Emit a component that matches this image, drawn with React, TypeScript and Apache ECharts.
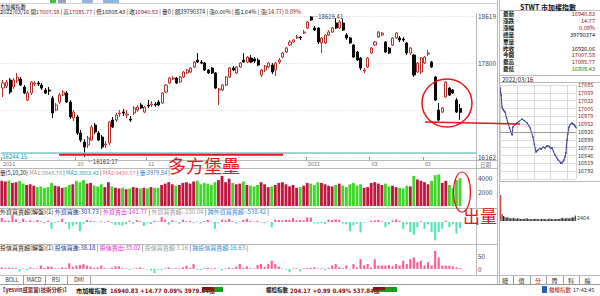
import React, { useEffect, useRef } from "react";
import * as echarts from "echarts";

const FONT = '"Noto Sans CJK TC","Noto Sans",sans-serif';
const NARROW = '"Liberation Sans Narrow","DejaVu Sans Condensed","Noto Sans CJK TC",sans-serif';

// daily candles [open, close, low, high]
const candles: number[][] = [
  [17364, 17451, 17207, 17504], [17399, 17469, 17364, 17504], [17504, 17294, 17260, 17538], [17382, 17504, 17347, 17538],
  [17486, 17556, 17451, 17626], [17521, 17416, 17399, 17556], [17382, 17277, 17260, 17416], [17155, 17277, 17138, 17312],
  [17277, 17469, 17242, 17486], [17434, 17451, 17399, 17486], [17451, 17434, 17399, 17486], [17416, 17364, 17329, 17451],
  [17329, 17277, 17260, 17364], [17329, 17312, 17242, 17382], [17190, 16928, 16841, 17225], [16981, 17068, 16963, 17103],
  [17120, 17242, 17085, 17277], [17242, 17294, 17225, 17329], [17277, 17120, 17103, 17312], [17120, 16859, 16824, 17155],
  [16841, 16946, 16789, 16981], [16859, 16580, 16545, 16894], [16580, 16458, 16423, 16632], [16423, 16336, 16162.17, 16475],
  [16371, 16493, 16318, 16528], [16458, 16684, 16440, 16719], [16719, 16597, 16562, 16754], [16580, 16458, 16440, 16615],
  [16510, 16336, 16301, 16545], [16371, 16388, 16318, 16440], [16406, 16772, 16371, 16789], [16806, 16684, 16667, 16859],
  [16806, 16894, 16772, 16928], [16911, 16928, 16859, 16981], [16946, 16928, 16876, 16998], [16894, 16911, 16841, 16981],
  [16824, 16806, 16772, 16876], [16928, 17016, 16894, 17050], [16981, 17033, 16946, 17068], [17068, 17016, 16998, 17103],
  [16946, 17033, 16928, 17050], [17068, 17050, 17016, 17155], [17068, 17085, 17033, 17138], [17085, 17068, 17033, 17120],
  [17120, 17068, 17050, 17155], [17103, 17277, 17085, 17294], [17294, 17416, 17277, 17434], [17451, 17538, 17434, 17556],
  [17521, 17538, 17504, 17573], [17538, 17451, 17434, 17556], [17469, 17556, 17451, 17573], [17556, 17643, 17538, 17660],
  [17626, 17678, 17608, 17695], [17643, 17713, 17626, 17730], [17730, 17817, 17713, 17835], [17852, 17817, 17800, 17974],
  [17817, 17800, 17782, 17852], [17800, 17678, 17660, 17817], [17678, 17626, 17608, 17695], [17713, 17626, 17608, 17730],
  [17626, 17364, 17347, 17643], [17329, 17347, 17068, 17364], [17329, 17416, 17312, 17434], [17416, 17556, 17399, 17573],
  [17556, 17713, 17538, 17730], [17713, 17678, 17660, 17748], [17626, 17730, 17608, 17748], [17730, 17800, 17713, 17817],
  [17852, 17817, 17800, 17974], [17817, 17904, 17800, 17922], [17887, 17817, 17800, 17939], [17870, 17835, 17800, 17904],
  [17852, 17765, 17748, 17887], [17591, 17678, 17556, 17695], [17678, 17748, 17643, 17765], [17730, 17800, 17713, 17817],
  [17765, 17643, 17608, 17800], [17678, 17800, 17573, 17817], [17817, 17852, 17782, 17887], [17904, 17974, 17887, 17992],
  [17992, 18061, 17974, 18079], [18114, 18166, 18096, 18201], [18166, 18201, 18149, 18218], [18236, 18253, 18218, 18288],
  [18253, 18236, 18201, 18271], [18323, 18340, 18305, 18375], [18410, 18515, 18393, 18532], [18602, 18549, 18532, 18619.41],
  [18410, 18375, 18358, 18445], [18410, 18166, 18131, 18427], [18149, 18236, 17974, 18253], [18149, 18288, 18131, 18305],
  [18288, 18340, 18271, 18375], [18340, 18410, 18323, 18427], [18497, 18410, 18393, 18584], [18410, 18515, 18393, 18549],
  [18497, 18375, 18358, 18567], [18288, 18236, 18201, 18323], [18236, 18149, 18131, 18253], [18114, 17904, 17887, 18131],
  [17992, 17852, 17835, 18009], [17887, 17713, 17678, 17904], [17660, 17678, 17626, 17713], [17730, 17887, 17713, 17904],
  [17974, 18061, 17957, 18079], [18114, 18166, 18096, 18183], [18253, 18340, 18236, 18358], [18288, 18323, 18271, 18340],
  [18166, 17992, 17974, 18183], [18061, 17974, 17957, 18079], [18114, 18236, 18096, 18253], [18236, 18323, 18218, 18340],
  [18236, 18201, 18166, 18271], [18218, 18201, 18166, 18253], [18149, 17974, 17939, 18166], [17974, 18061, 17939, 18079],
  [17939, 17591, 17556, 17957], [17643, 17800, 17626, 17817], [17643, 17887, 17608, 17904], [17800, 17904, 17782, 17922],
  [17957, 17974, 17922, 18026], [17817, 17730, 17713, 17835], [17556, 17155, 17138, 17573], [16981, 16806, 16789, 17103],
  [16946, 17016, 16928, 17033], [17207, 17469, 17190, 17486], [17364, 17242, 17225, 17382], [17329, 17277, 17260, 17347],
  [17155, 16946, 16928, 17190], [17007.58, 16940.83, 16808.43, 17085.77],
];

// daily turnover (億)
const volumes: number[] = [
  3600, 3500, 3650, 3300, 3400, 3550, 3200, 3000, 3100, 2900, 2700, 2800, 2600, 2700, 3300, 2900, 2800, 2600, 2700, 3000,
  3100, 3600, 3400, 3700, 3200, 3300, 2900, 2800, 3100, 2700, 3400, 2800, 2600, 2500, 2600, 2400, 2500, 2700, 2600, 2500,
  2600, 2500, 2700, 2600, 2600, 3000, 3200, 3400, 3100, 2900, 3000, 3300, 3400, 3200, 3500, 3600, 3100, 3300, 3200, 3000,
  3400, 3700, 4300, 3400, 3900, 3300, 3100, 3200, 3500, 3000, 2900, 2800, 3000, 3400, 3100, 2700, 2800, 3000, 3300, 3400,
  3100, 2800, 3000, 2600, 2700, 2900, 3300, 3200, 3000, 3400, 3300, 3100, 2900, 2800, 3000, 3200, 2900, 2700, 3100, 3300,
  2900, 3100, 2600, 2700, 3300, 3400, 3200, 3000, 3200, 2800, 2900, 2700, 2600, 2500, 2900, 2800, 4300, 3800, 3600, 3400,
  3100, 3600, 4400, 4500, 3300, 3600, 3000, 2500, 3700, 3979.84,
];

// foreign investors net buy/sell (億)
const foreignNet: number[] = [
  100, 40, 30, 170, 60, -30, 80, 20, 40, 10, 50, 20, -30, 30, -170, -20, 20, 80, -40, -180,
  -100, -60, -230, -40, 50, 30, 20, -10, 20, -20, 30, -20, -80, -70, -90, -60, 30, -40, 50, 20,
  -100, -20, -50, 30, 10, 120, 60, -70, 40, 10, -40, 60, 20, 30, -30, 10, -40, 20, 50, 10,
  -170, -30, 60, 40, 80, 20, -40, 10, 50, 80, 20, 10, 30, -20, -30, 10, -130, 60, 50, 40,
  60, 50, 100, 40, 50, 40, 120, 110, -30, -40, -30, -50, 60, 50, 70, 50, -40, -60, -230, -80,
  -40, -260, -20, -10, 30, 40, 50, 20, -130, -60, 40, 60, 30, -170, -60, -250, -320, -130, 20, -170,
  -60, -250, -460, -250, -170, 30, -130, -60, -290, -150.04,
];

// investment trust net buy/sell (億)
const trustNet: number[] = [
  6, 3, 5, 4, 3, -10, 2, -5, 5, 3, 2, 13, 4, 9, 9, 3, 2, 6, 4, 22,
  8, 13, 15, 19, 13, 9, 4, 6, 13, 3, 2, 5, 10, 10, 3, 2, -4, 2, 3, 6,
  2, -3, -6, -19, -4, -5, 3, 6, 2, 3, 2, 6, 13, 4, 19, -4, -5, 3, 4, 2,
  3, 1, -6, 2, 5, 3, 9, 19, 4, 10, 3, 2, 15, 19, 8, 19, 32, 19, 9, 2,
  -3, -13, 2, 3, -10, 2, 3, 4, 6, 2, 3, -5, 4, 13, 19, 6, 3, 13, -3, 19,
  6, 38, 13, 19, 6, 38, 13, 13, 13, 15, 10, 19, 13, 32, 19, 38, 45, 26, 32, 13,
  26, 13, 70, 45, 13, 13, 13, 10, 6, 3.16,
];

const dateLabels: Record<number, string> = { 0: "2021", 21: "10", 41: "11", 86: "2022", 104: "02", 119: "03" };
const mainAxis = { min: 16162.17, max: 18619.41, interval: 819.08 };
const supportLevel = 16244.15;
const lastClose = 16940.83;

// intraday minute index from 09:00 and price
const intradayPrice: number[][] = [
  [0, 17075], [2, 17062], [4, 17052], [7, 17011], [11, 17003], [14, 16998], [18, 16994], [23, 16975], [28, 16957],
  [34, 16940], [39, 16925], [43, 16916], [46, 16943], [52, 16950], [60, 16957], [68, 16962], [78, 16970], [86, 16965],
  [96, 16957], [102, 16948], [107, 16940], [112, 16925], [117, 16909], [122, 16885], [128, 16858], [131, 16862],
  [135, 16865], [141, 16870], [147, 16868], [153, 16875], [160, 16872], [165, 16878], [170, 16879], [176, 16876],
  [180, 16870], [185, 16872], [190, 16860], [195, 16848], [201, 16840], [206, 16831], [212, 16826], [216, 16820],
  [220, 16821], [224, 16826], [227, 16831], [231, 16842], [234, 16855], [236, 16875], [238, 16899], [241, 16920],
  [245, 16943], [250, 16952], [256, 16957], [260, 16953], [263, 16950], [267, 16946], [270, 16941],
];
const intradayVol: number[] = [
  2600, 700, 500, 420, 350, 380, 300, 280, 260, 320, 240, 220, 270, 250, 210, 190, 230, 200, 280, 250, 210, 190,
  180, 200, 210, 220, 190, 180, 170, 190, 200, 210, 180, 170, 190, 240, 200, 180, 170, 190, 210, 200, 230, 270,
  320, 260, 240, 300, 280, 250, 320, 340, 380, 560,
];
const prevClose = 16926.06;
const intradayAxis = { min: 16766.35, max: 17085.77, interval: 26.6183 };

const quoteRows: [string, string, string][] = [
  ["最新", "16940.83", "#9b1010"], ["漲跌", "14.77", "#9b1010"], ["漲幅", "0.09%", "#9b1010"],
  ["總量", "39790374", "#111"], ["單量", "", "#111"], ["昨收", "16926.06", "#111"],
  ["今開", "17007.58", "#9b1010"], ["最高", "17085.77", "#9b1010"], ["最低", "16808.43", "#0a8a0a"],
];

const UP = "#c0163f";
const DOWN = "#3fd62a";

export default function App() {
  const ref = useRef<HTMLDivElement>(null);
  useEffect(() => {
    if (!ref.current) return;
    const chart = echarts.init(ref.current, null, { renderer: "svg" });
    const cats = candles.map((_, i) => "d" + i).concat(["e1", "e2", "e3", "e4"]);
    const upDay = (i: number) => candles[i][1] >= candles[i][0];

    const t = (text: string, x: number, y: number, fill: string, size = 7, extra: any = {}) => ({
      type: "text", silent: true, z: 50,
      style: { text, x, y, fill, fontSize: size, fontFamily: FONT, textVerticalAlign: "middle", ...extra },
    });
    const hl = (x1: number, y1: number, x2: number, y2: number, stroke = "#b8b8b8", lw = 1) => ({
      type: "line", silent: true, z: 40, shape: { x1, y1, x2, y2 }, style: { stroke, lineWidth: lw },
    });
    const rich = (x: number, y: number, text: string, colors: Record<string, string>, size = 6) => ({
      type: "text", silent: true, z: 50,
      style: {
        x, y, text, textVerticalAlign: "middle", fontFamily: FONT, fontSize: size,
        rich: Object.fromEntries(Object.entries(colors).map(([k, c]) => [k, { fill: c, fontSize: size, fontFamily: FONT }])),
      },
    });

    const graphics: any[] = [
      // toolbar scraps
      { type: "rect", shape: { x: 50, y: 0, width: 6, height: 3 }, style: { fill: "#44c444" } },
      { type: "rect", shape: { x: 58, y: 0, width: 8, height: 3 }, style: { fill: "#9aa3b5" } },
      { type: "rect", shape: { x: 82, y: 0, width: 11, height: 3 }, style: { fill: "#8fb5e0" } },
      { type: "rect", shape: { x: 103, y: 0, width: 16, height: 3 }, style: { fill: "#8fb5e0" } },
      hl(0, 3.5, 497, 3.5, "#cfcfcf"),
      t("市加權指數", 0, 6.2, "#111", 5.2),
      rich(0, 12,
        "{k|2022/03/16 }{k|開}{v|17007.58}{k| | 高}{v|17085.77}{k| | 低}{k|16808.43}{k| | 收}{v|16940.83}{k| | 量0 | 額39790374 | 漲}{k|0.00%}{k| | 振}{k|1.64%}{k| | 漲}{v|(14.77) 0.09%}",
        { k: "#222", v: "#9b1010" }, 5.6),
      // frame
      hl(0, 160.5, 497, 160.5), hl(0, 168.5, 497, 168.5), hl(0, 208.5, 497, 208.5), hl(0, 244.5, 497, 244.5),
      hl(0, 275.5, 600, 275.5), hl(476.5, 13, 476.5, 276), hl(497.5, 0, 497.5, 284), hl(499.5, 0, 499.5, 284),
      hl(0, 284.5, 600, 284.5, "#9a9a9a"),
      t("日期", 480, 164.5, "#777", 5.5),
      rich(0, 172.5, "{k|量(5,10,20) }{a|MA1:3848.78 }{k|| }{b|MA2:3803.42 }{k|| }{c|MA3:3420.57 }{k|| }{d|量:3979.84 }{k||}",
        { k: "#222", a: "#9a9a9a", b: "#19a7b0", c: "#f07090", d: "#1e7fe0" }, 5.6),
      rich(0, 211.5, "{k|外資買賣超(解盤)(1) }{a|外資買進:303.73 }{k|| }{b|外資賣出:141.77 }{k|| }{c|外資買賣超:-150.04 }{k|| }{d|跨外資買賣超:-538.42 }{k||}",
        { k: "#222", a: "#2233aa", b: "#e02ad0", c: "#999", d: "#1e90e0" }),
      rich(0, 247.5, "{k|投信買賣超(解盤)(1) }{a|投信買進:38.18 }{k|| }{b|投信賣出:35.02 }{k|| }{c|投信買賣超:3.16 }{k|| }{d|跨投信買賣超:16.63 }{k||}",
        { k: "#222", a: "#2233aa", b: "#e02ad0", c: "#999", d: "#1e90e0" }),
      // bottom tabs
      hl(23.5, 276, 23.5, 284, "#999"), hl(45.5, 276, 45.5, 284, "#999"), hl(67.5, 276, 67.5, 284, "#999"), hl(90.5, 276, 90.5, 284, "#999"),
      t("BOLL", 12, 280, "#333", 5.5, { textAlign: "center" }),
      t("MACD", 34, 280, "#333", 5.5, { textAlign: "center" }),
      t("RSI", 56, 280, "#333", 5.5, { textAlign: "center" }),
      t("DMI", 79, 280, "#333", 5.5, { textAlign: "center" }),
      // status bar
      t("【yesvin感恩富(技術分析)】", 0, 290, "#7a1010", 5.4, { fontWeight: "bold" }),
      t("市加權指數", 76, 290, "#111", 6.2, { fontWeight: "bold" }),
      t("16940.83 +14.77 0.09% 3979.84億", 110, 290, "#8b1010", 6, { fontWeight: "bold", fontFamily: NARROW }),
      { type: "rect", shape: { x: 202, y: 287, width: 11, height: 3 }, style: { fill: "#8b1010" } },
      { type: "rect", shape: { x: 213, y: 287, width: 10, height: 3 }, style: { fill: "#1a9a1a" } },
      { type: "rect", shape: { x: 202, y: 290, width: 21, height: 2 }, style: { fill: "#1a9a1a" } },
      t("櫃檯指數", 266, 290, "#111", 5.5, { fontWeight: "bold" }),
      t("204.17 +0.99 0.49% 537.84億", 290, 290, "#8b1010", 6, { fontWeight: "bold", fontFamily: NARROW }),
      { type: "rect", shape: { x: 373, y: 287, width: 12, height: 3 }, style: { fill: "#8b1010" } },
      { type: "rect", shape: { x: 385, y: 287, width: 12, height: 3 }, style: { fill: "#1a9a1a" } },
      { type: "rect", shape: { x: 373, y: 290, width: 24, height: 2 }, style: { fill: "#1a9a1a" } },
      // right quote panel
      t("STWT 市加權指數", 548, 7, "#111", 7, { textAlign: "center", fontWeight: "bold" }),
      hl(500, 10.5, 600, 10.5),
      ...quoteRows.flatMap(([k, v, c], i) => [
        t(k, 503, 14 + i * 6.9, "#111", 5.6, { fontWeight: "bold" }),
        t(v, 595, 14 + i * 6.9, c, 5.6, { textAlign: "right" }),
      ]),
      hl(500, 75.5, 600, 75.5),
      t("2022/03/16", 502, 79, "#222", 6),
      hl(500, 82.5, 600, 82.5),
      hl(500, 181.5, 600, 181.5),
      t("2464", 577, 218, "#444", 5.5),
      // right tabs
      ...["細", "價", "分", "周", "科", "縮"].map((s, i) => t(s, 505 + i * 16.5, 280, i === 2 ? "#c01010" : "#333", 6, { textAlign: "center" })),
      ...[513, 530, 546, 563, 579].map((x) => hl(x + 0.5, 276, x + 0.5, 284, "#999")),
      { type: "rect", shape: { x: 542, y: 286, width: 5, height: 7 }, style: { fill: "#2a5fc0" } },
      t("櫃檯指數", 549, 290, "#c01010", 5.5),
      t("17:42:45", 573, 290, "#333", 5.5),
      // red annotations
      { type: "ellipse", z: 60, shape: { cx: 447, cy: 103, rx: 25, ry: 24 }, style: { fill: "none", stroke: "#e8141c", lineWidth: 1.5 } },
      { type: "ellipse", z: 60, shape: { cx: 462, cy: 192, rx: 8.5, ry: 20 }, style: { fill: "none", stroke: "#e8141c", lineWidth: 1.2 } },
      { type: "line", z: 60, shape: { x1: 425, y1: 122, x2: 520, y2: 124 }, style: { stroke: "#e8141c", lineWidth: 1.5 } },
      { type: "line", z: 60, shape: { x1: 59, y1: 154.7, x2: 283, y2: 154.7 }, style: { stroke: "#e8141c", lineWidth: 2 } },
      { type: "text", z: 60, style: { text: "多方堡壘", x: 168, y: 165, fill: "#e8141c", fontSize: 18, fontFamily: FONT, textVerticalAlign: "middle" } },
      { type: "text", z: 60, style: { text: "出量", x: 463, y: 215, fill: "#e8141c", fontSize: 17, fontFamily: FONT, textVerticalAlign: "middle" } },
    ];

    const hiddenCatAxis = (gi: number) => ({
      type: "category", gridIndex: gi, data: cats, boundaryGap: true,
      axisLine: { show: false }, axisTick: { show: false }, axisLabel: { show: false }, splitLine: { show: false },
    });
    const axisLabelStyle = { fontSize: 6.5, color: "#444", fontFamily: FONT, margin: 2 };
    const hideNear = (v: number) => Math.abs(v - lastClose) < 60;

    chart.setOption({
      animation: false,
      backgroundColor: "#ffffff",
      grid: [
        { left: 0, top: 16, width: 476, height: 141 },
        { left: 0, top: 174, width: 476, height: 32 },
        { left: 0, top: 214, width: 476, height: 28 },
        { left: 0, top: 250, width: 476, height: 23 },
        { left: 500, top: 85, width: 76, height: 94 },
        { left: 500, top: 185, width: 76, height: 36 },
      ],
      xAxis: [
        {
          type: "category", gridIndex: 0, data: cats, boundaryGap: true,
          axisLine: { show: false },
          axisTick: { show: true, interval: (i: number) => dateLabels[i] !== undefined, length: 3, lineStyle: { color: "#999" } },
          axisLabel: {
            show: true, interval: (i: number) => dateLabels[i] !== undefined,
            formatter: (_: string, i: number) => dateLabels[i] ?? "",
            fontSize: 5.5, color: "#777", margin: 4.5, align: "left", fontFamily: FONT,
          },
          splitLine: { show: false },
        },
        hiddenCatAxis(1), hiddenCatAxis(2), hiddenCatAxis(3),
        {
          type: "value", gridIndex: 4, min: 0, max: 270, interval: 60,
          axisLine: { show: false }, axisTick: { show: false }, axisLabel: { show: false },
          splitLine: { show: true, lineStyle: { color: "#d8d8d8", width: 1 } },
        },
        {
          type: "category", gridIndex: 5, data: intradayVol.map((_, i) => "m" + i),
          axisLine: { show: false }, axisTick: { show: false }, axisLabel: { show: false }, splitLine: { show: false },
        },
      ],
      yAxis: [
        {
          type: "value", gridIndex: 0, position: "right", min: mainAxis.min, max: mainAxis.max, interval: mainAxis.interval,
          axisLine: { show: false }, axisTick: { show: false },
          axisLabel: { ...axisLabelStyle, formatter: (v: number) => (hideNear(v) ? "" : String(Math.floor(v))) },
          splitLine: { show: true, lineStyle: { color: "#d4d4d4", type: [1, 2] } },
        },
        {
          type: "value", gridIndex: 1, position: "right", min: 0, max: 4571, interval: 2000,
          axisLine: { show: false }, axisTick: { show: false },
          axisLabel: { ...axisLabelStyle, formatter: (v: number) => (v === 0 ? "" : String(v)) },
          splitLine: { show: false },
        },
        {
          type: "value", gridIndex: 2, position: "right", min: -500, max: 200,
          axisLine: { show: false }, axisTick: { show: false }, axisLabel: { show: false }, splitLine: { show: false },
        },
        {
          type: "value", gridIndex: 3, position: "right", min: -16, max: 74,
          axisLine: { show: false }, axisTick: { show: false },
          axisLabel: { ...axisLabelStyle, customValues: [0, 50] },
          splitLine: { show: false },
        },
        {
          type: "value", gridIndex: 4, position: "right", min: intradayAxis.min, max: intradayAxis.max, interval: intradayAxis.interval,
          axisLine: { show: false }, axisTick: { show: false },
          axisLabel: {
            fontSize: 5.5, fontFamily: FONT, margin: 2, showMinLabel: false,
            formatter: (v: number) => String(Math.floor(v + 0.001)),
            color: (v: number) => (v > prevClose + 1 ? "#a01515" : "#333"),
          },
          splitLine: { show: true, lineStyle: { color: "#dcdcdc" } },
        },
        {
          type: "value", gridIndex: 5, position: "right", min: 0, max: 3600,
          axisLine: { show: false }, axisTick: { show: false }, axisLabel: { show: false }, splitLine: { show: false },
        },
      ],
      series: [
        {
          type: "candlestick", xAxisIndex: 0, yAxisIndex: 0, data: candles, barWidth: "72%",
          itemStyle: { color: "#ffffff", color0: "#0a0a0a", borderColor: "#b5322f", borderColor0: "#0a0a0a", borderWidth: 1 },
          markPoint: {
            symbol: "circle", symbolSize: 0,
            label: { show: true, position: "right", fontSize: 6, color: "#333", fontFamily: FONT, distance: 1 },
            data: [
              { type: "max", valueDim: "highest", label: { formatter: (p: any) => "─" + Number(p.value).toFixed(2) } },
              { type: "min", valueDim: "lowest", label: { formatter: (p: any) => "└ " + Number(p.value).toFixed(2), offset: [0, 4] } },
            ],
          },
          markLine: {
            symbol: "none", silent: true,
            data: [
              {
                yAxis: supportLevel, lineStyle: { color: "#7cc7cc", width: 1.5, type: "solid" },
                label: { show: true, position: "insideStartBottom", formatter: "16244.15", color: "#2a9aa5", fontSize: 6, fontFamily: FONT, distance: [1, 1] },
              },
              {
                yAxis: lastClose, lineStyle: { opacity: 0 },
                label: { show: true, position: "end", formatter: "16940.8", color: "#d01818", fontSize: 6, fontFamily: FONT, distance: 3 },
              },
            ],
          },
        },
        {
          type: "bar", xAxisIndex: 1, yAxisIndex: 1, barWidth: "80%",
          data: volumes.map((v, i) => ({ value: v, itemStyle: { color: upDay(i) ? UP : DOWN } })),
        },
        {
          type: "bar", xAxisIndex: 2, yAxisIndex: 2, barWidth: "60%",
          data: foreignNet.map((v) => ({ value: v, itemStyle: { color: v >= 0 ? "#ff5c93" : "#52e6b8" } })),
        },
        {
          type: "bar", xAxisIndex: 3, yAxisIndex: 3, barWidth: "60%",
          data: trustNet.map((v) => ({ value: v, itemStyle: { color: v >= 0 ? "#ff5c93" : "#52e6b8" } })),
        },
        {
          type: "line", xAxisIndex: 4, yAxisIndex: 4, data: intradayPrice, symbol: "circle", symbolSize: 1.5,
          lineStyle: { color: "#3b3b9a", width: 1 }, itemStyle: { color: "#3b3b9a" },
          markLine: {
            symbol: "none", silent: true, label: { show: false },
            data: [{ yAxis: prevClose, lineStyle: { color: "#999", width: 1, type: "solid" } }],
          },
        },
        {
          type: "bar", xAxisIndex: 5, yAxisIndex: 5, barWidth: "55%",
          data: intradayVol.map((v, i) => ({ value: v, itemStyle: { color: i === 0 ? "#c01818" : "#222" } })),
        },
      ],
      graphic: graphics,
    });
    return () => chart.dispose();
  }, []);
  return <div ref={ref} style={{ position: "fixed", left: 0, top: 0, width: 600, height: 296, background: "#fff" }} />;
}
